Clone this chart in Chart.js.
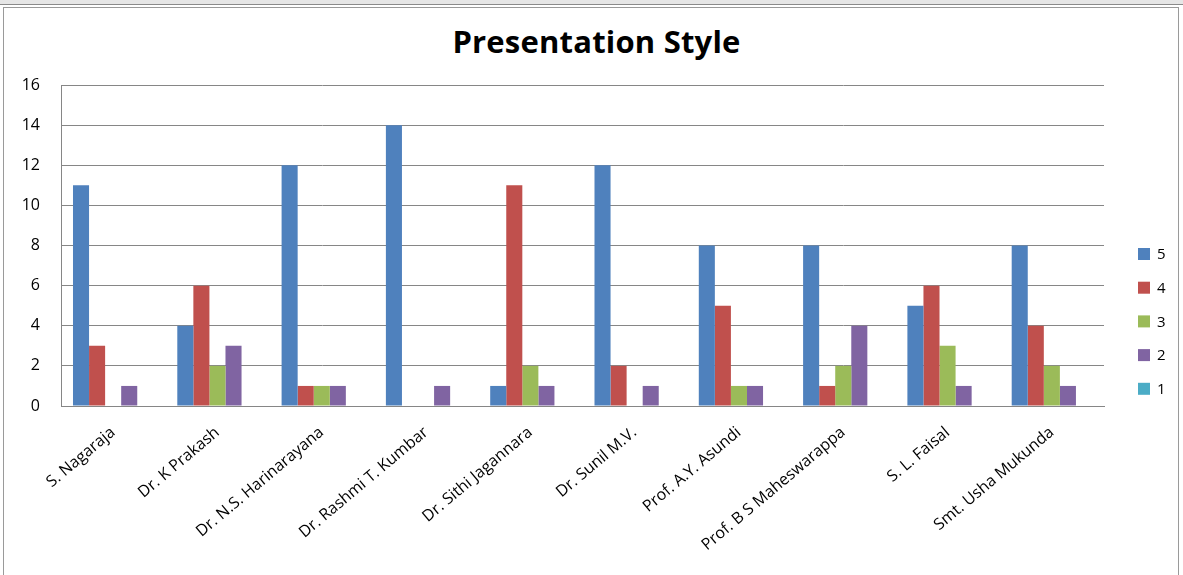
<!DOCTYPE html>
<html>
<head>
<meta charset="utf-8">
<script src="https://cdn.jsdelivr.net/npm/chart.js@4"></script>
<style>
  html, body { margin: 0; padding: 0; background: #fff; overflow: hidden; }
  .topband { position: absolute; left: 0; top: 0; width: 1183px; height: 4px; background: #e6e6e6; border-bottom: 1px solid #8a8a8a; }
  .frame { position: absolute; left: 3px; top: 7px; width: 1174px; height: 580px; border: 1px solid #9a9a9a; }
  .wrap { position: absolute; left: 0; top: 0; width: 1183px; height: 575px; }
  .title { position: absolute; left: 0; top: 26px; width: 1193px; text-align: center;
           font: bold 31px/31px 'Open Sans', 'DejaVu Sans', sans-serif; color: #000; letter-spacing: 0.2px; }
</style>
</head>
<body>
<div class="topband"></div>
<div class="frame"></div>
<div class="title">Presentation Style</div>
<div class="wrap"><canvas id="chart1"></canvas></div>
<script>
'use strict';
var NAMES = ['S. Nagaraja', 'Dr. K Prakash', 'Dr. N.S. Harinarayana', 'Dr. Rashmi T. Kumbar', 'Dr. Sithi Jagannara',
    'Dr. Sunil M.V.', 'Prof. A.Y. Asundi', 'Prof. B S Maheswarappa', 'S. L. Faisal', 'Smt. Usha Mukunda'];
var SERIES = ['5', '4', '3', '2', '1'];
var RATED5 = [11, 4, 12, 14, 1, 12, 8, 8, 5, 8];
var RATED4 = [3, 6, 1, 0, 11, 2, 5, 1, 6, 4];
var RATED3 = [0, 2, 1, 0, 2, 0, 1, 2, 3, 2];
var RATED2 = [1, 3, 1, 1, 1, 1, 1, 4, 1, 1];
var RATED1 = [0, 0, 0, 0, 0, 0, 0, 0, 0, 0];
var Y_TICKS = [0, 2, 4, 6, 8, 10, 12, 14, 16];
var COLORS = ['#4F81BD', '#C0504D', '#9BBB59', '#8064A2', '#4BACC6'];
var FONT = "'Open Sans', 'DejaVu Sans', sans-serif";

// legend drawn by hand, Excel style, to the right of the plot
var sideLegend = {
    id: 'sideLegend',
    afterDraw: function (chart) {
        var c = chart.ctx;
        c.save();
        c.font = '15px ' + FONT;
        c.textBaseline = 'middle';
        chart.data.datasets.forEach(function (ds, i) {
            var y = 254 + i * 33.7;
            c.fillStyle = ds.backgroundColor;
            c.fillRect(1138, y - 6, 12, 12);
            c.fillStyle = '#000';
            c.fillText(ds.label, 1157, y + 1);
        });
        c.restore();
    }
};

var ctx = document.getElementById('chart1').getContext('2d');
var rows = [RATED5, RATED4, RATED3, RATED2, RATED1];

new Chart(ctx, {
    type: 'bar',
    data: {
        labels: NAMES,
        datasets: rows.map(function (r, i) {
            return { label: SERIES[i], data: r, backgroundColor: COLORS[i], borderWidth: 0 };
        })
    },
    options: {
        responsive: true,
        maintainAspectRatio: false,
        animation: false,
        categoryPercentage: 0.77,
        barPercentage: 1.0,
        layout: { padding: { top: 85, right: 79, bottom: 0, left: 0 } },
        plugins: {
            legend: { display: false },
            tooltip: { enabled: false },
            title: { display: false }
        },
        scales: {
            x: {
                grid: { display: false },
                border: { display: true, color: '#868686', width: 1 },
                ticks: {
                    color: '#000',
                    font: { family: FONT, size: 16 },
                    minRotation: 40,
                    maxRotation: 40,
                    padding: 9
                },
                afterFit: function (scale) { scale.height = 169; }
            },
            y: {
                min: 0,
                max: 16,
                afterBuildTicks: function (scale) {
                    scale.ticks = Y_TICKS.map(function (v) { return { value: v }; });
                },
                grid: { color: '#868686', drawTicks: false },
                border: { display: true, color: '#868686', width: 1 },
                ticks: {
                    color: '#000',
                    font: { family: FONT, size: 16 },
                    padding: 21
                },
                afterFit: function (scale) { scale.width = 61; }
            }
        }
    },
    plugins: [sideLegend]
});
</script>
</body>
</html>
